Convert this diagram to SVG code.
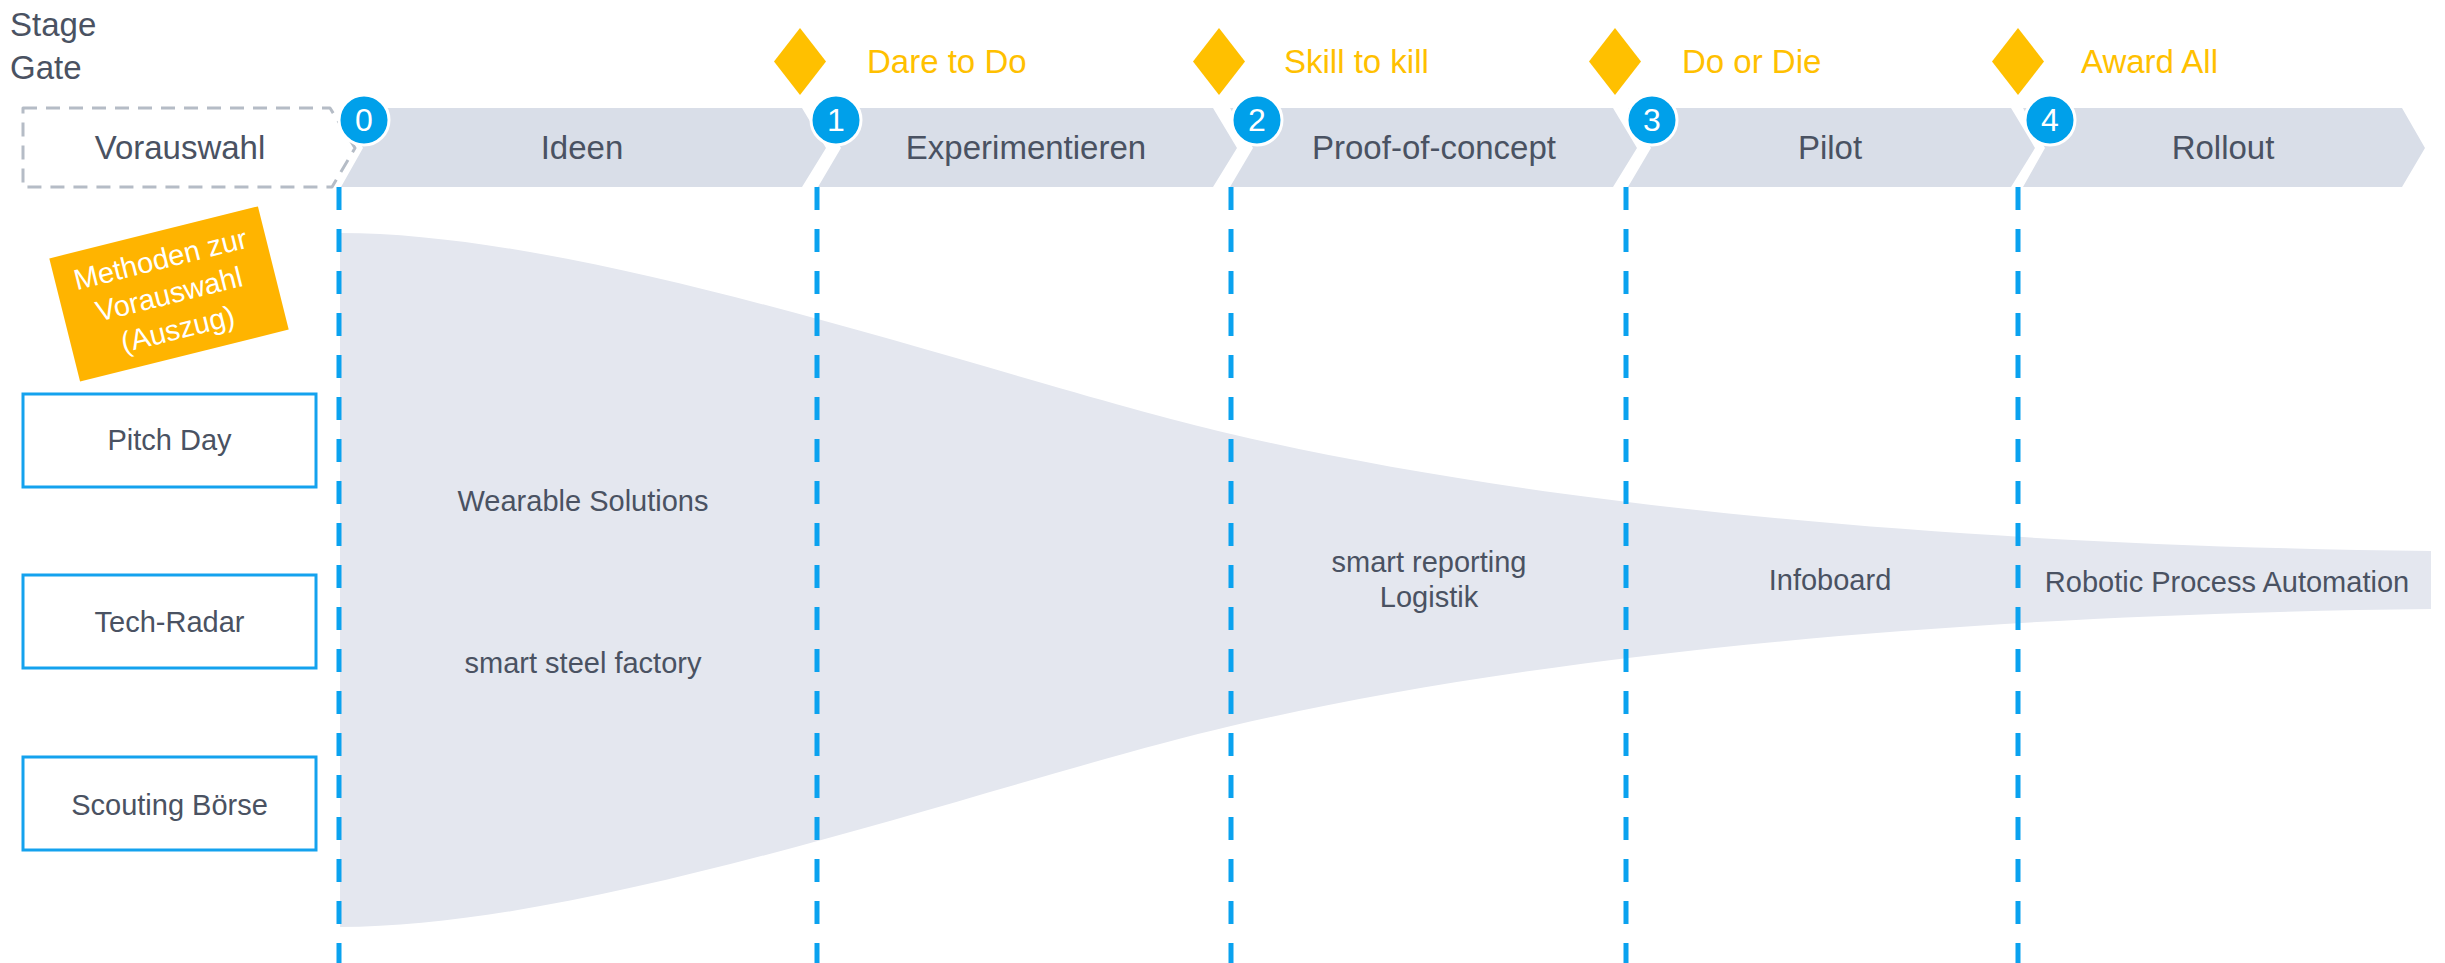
<svg xmlns="http://www.w3.org/2000/svg" width="2445" height="963" viewBox="0 0 2445 963">
<style>
.t{font-family:"Liberation Sans",Arial,sans-serif;fill:#4A5262}
.stage{font-size:33px;text-anchor:middle}
.gate{font-family:"Liberation Sans",Arial,sans-serif;font-size:33px;fill:#FFC000}
.lbl{font-size:29px;text-anchor:middle}
.chev{fill:#D9DEE8}
.dia{fill:#FFC000}
.num circle{fill:#00A0EA;stroke:#fff;stroke-width:3}
.num text{font-family:"Liberation Sans",Arial,sans-serif;font-size:32px;fill:#fff;text-anchor:middle}
.vline{stroke:#0AA2EF;stroke-width:5;stroke-dasharray:23 19;fill:none}
.box{fill:#fff;stroke:#14A2EE;stroke-width:3}
.mt{font-family:"Liberation Sans",Arial,sans-serif;font-size:29px;fill:#fff;text-anchor:middle}
</style>

<g id="funnel">
<path d="M340,233 C600,233 1000,380 1231,434 C1500,497 1900,545 2431,551 L2431,609 C1900,615 1500,663 1231,726 C1000,780 600,927 340,927 Z" fill="#E4E7EF"/>
</g>

<g id="title">
<text class="t" x="10" y="36" font-size="33">Stage</text>
<text class="t" x="10" y="79" font-size="33">Gate</text>
</g>

<g id="vorauswahl">
<path d="M23,108 L330,108 L355,148 L332,187 L23,187 Z" fill="#fff" stroke="#B5BCC6" stroke-width="3" stroke-dasharray="14 9" stroke-linejoin="round"/>
<text class="t stage" x="180" y="159">Vorauswahl</text>
</g>

<g id="stage-ideen">
<polygon class="chev" points="341,108 802,108 826,148 802,187 341,187 363,148"/>
<text class="t stage" x="582" y="159">Ideen</text>
</g>
<g id="stage-experimentieren">
<polygon class="chev" points="818,108 1213,108 1237,148 1213,187 818,187 841,148"/>
<text class="t stage" x="1026" y="159">Experimentieren</text>
</g>
<g id="stage-proof">
<polygon class="chev" points="1230,108 1613,108 1637,148 1613,187 1230,187 1253,148"/>
<text class="t stage" x="1434" y="159">Proof-of-concept</text>
</g>
<g id="stage-pilot">
<polygon class="chev" points="1628,108 2011,108 2035,148 2011,187 1628,187 1651,148"/>
<text class="t stage" x="1830" y="159">Pilot</text>
</g>
<g id="stage-rollout">
<polygon class="chev" points="2023,108 2402,108 2425,148 2402,187 2023,187 2045,148"/>
<text class="t stage" x="2223" y="159">Rollout</text>
</g>

<g id="connectors">
<line class="vline" x1="339" y1="187" x2="339" y2="963"/>
<line class="vline" x1="817" y1="187" x2="817" y2="963"/>
<line class="vline" x1="1231" y1="187" x2="1231" y2="963"/>
<line class="vline" x1="1626" y1="187" x2="1626" y2="963"/>
<line class="vline" x1="2018" y1="187" x2="2018" y2="963"/>
</g>

<g id="gate-1">
<polygon class="dia" points="800,28 826,61.5 800,95 774,61.5"/>
<text class="gate" x="867" y="73">Dare to Do</text>
</g>
<g id="gate-2">
<polygon class="dia" points="1219,28 1245,61.5 1219,95 1193,61.5"/>
<text class="gate" x="1284" y="73">Skill to kill</text>
</g>
<g id="gate-3">
<polygon class="dia" points="1615,28 1641,61.5 1615,95 1589,61.5"/>
<text class="gate" x="1682" y="73">Do or Die</text>
</g>
<g id="gate-4">
<polygon class="dia" points="2018,28 2044,61.5 2018,95 1992,61.5"/>
<text class="gate" x="2081" y="73">Award All</text>
</g>

<g id="num-0" class="num"><circle cx="364" cy="120" r="25"/><text x="364" y="131">0</text></g>
<g id="num-1" class="num"><circle cx="836" cy="120" r="25"/><text x="836" y="131">1</text></g>
<g id="num-2" class="num"><circle cx="1257" cy="120" r="25"/><text x="1257" y="131">2</text></g>
<g id="num-3" class="num"><circle cx="1652" cy="120" r="25"/><text x="1652" y="131">3</text></g>
<g id="num-4" class="num"><circle cx="2050" cy="120" r="25"/><text x="2050" y="131">4</text></g>

<g id="methoden" transform="translate(169,294) rotate(-14)">
<rect x="-107.5" y="-63.5" width="215" height="127" fill="#FFB400"/>
<text class="mt" x="0" y="-26">Methoden zur</text>
<text class="mt" x="0" y="10">Vorauswahl</text>
<text class="mt" x="0" y="46">(Auszug)</text>
</g>

<g id="pitch-day">
<rect class="box" x="23" y="394" width="293" height="93"/>
<text class="t lbl" x="169.5" y="450">Pitch Day</text>
</g>
<g id="tech-radar">
<rect class="box" x="23" y="575" width="293" height="93"/>
<text class="t lbl" x="169.5" y="632">Tech-Radar</text>
</g>
<g id="scouting-boerse">
<rect class="box" x="23" y="757" width="293" height="93"/>
<text class="t lbl" x="169.5" y="815">Scouting Börse</text>
</g>

<g id="projects">
<text class="t lbl" x="583" y="511">Wearable Solutions</text>
<text class="t lbl" x="583" y="673">smart steel factory</text>
<text class="t lbl" x="1429" y="572">smart reporting</text>
<text class="t lbl" x="1429" y="607">Logistik</text>
<text class="t lbl" x="1830" y="590">Infoboard</text>
<text class="t lbl" x="2227" y="592">Robotic Process Automation</text>
</g>
</svg>
